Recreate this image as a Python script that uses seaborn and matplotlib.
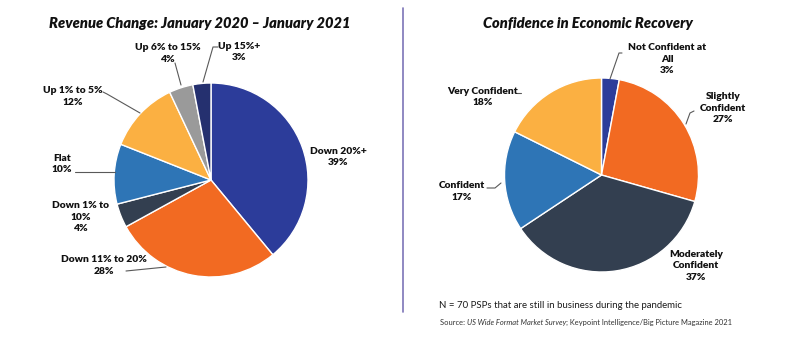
import matplotlib
matplotlib.use("Agg")
import matplotlib.pyplot as plt
import seaborn as sns
from matplotlib.lines import Line2D

sns.set_theme(style="white")
plt.rcParams["font.family"] = ["Lato", "DejaVu Sans"]

W, H = 800, 347

# ---------------- data ----------------
rev_categories = ["Down 20%+", "Down 11% to 20%", "Down 1% to\n10%", "Flat",
                  "Up 1% to 5%", "Up 6% to 15%", "Up 15%+"]
rev_values = [39, 28, 4, 10, 12, 4, 3]

conf_categories = ["Not Confident at\nAll", "Slightly\nConfident", "Moderately\nConfident",
                   "Confident", "Very Confident"]
conf_values = [3, 27, 37, 17, 18]

title_left = "Revenue Change: January 2020 \u2013 January 2021"
title_right = "Confidence in Economic Recovery"
note_text = "N = 70 PSPs that are still in business during the pandemic"
source_parts = [("Source: ", "normal"), ("US Wide Format Market Survey", "italic"),
                ("; Keypoint Intelligence/Big Picture Magazine 2021", "normal")]

# ---------------- styles ----------------
c_dblue = "#2C3C9A"
c_orange = "#F26A22"
c_slate = "#333F50"
c_blue = "#2E75B6"
c_yellow = "#FBB042"
c_gray = "#9A9A9A"
c_navy = "#25306F"
rev_colors = sns.color_palette([c_dblue, c_orange, c_slate, c_blue, c_yellow, c_gray, c_navy])
conf_colors = sns.color_palette([c_dblue, c_orange, c_slate, c_blue, c_yellow])

# label positions (pixel centres) and leader lines
rev_label_pos = [(338, 157), (104, 265.5), (81, 217), (62, 164), (73, 96.5), (168, 53.5), (239, 52)]
rev_leaders = [None, [(126, 271), (166, 267)], None, [(75, 172), (115, 172)],
               [(103, 92), (107, 94), (140, 113)], [(175, 63), (181, 85)],
               [(218, 47), (213, 47), (203, 82)]]
conf_label_pos = [(667, 59), (723, 108), (696, 266), (462, 191.5), (483, 97)]
conf_leaders = [[(622, 53), (619, 53), (610, 79)], [(694, 111), (690, 113), (686, 124)],
                None, [(487, 188), (495, 188), (501, 183)], [(517, 93), (521, 93)]]


def fx(x):
    return x / W


def fy(y):
    return 1 - y / H


fig = plt.figure(figsize=(W / 100, H / 100), dpi=100)
fig.patch.set_facecolor("white")


def draw_pie(cx, cy, r, values, colors):
    ax = fig.add_axes([fx(cx - r), fy(cy + r), 2 * r / W, 2 * r / H])
    ax.pie(values, colors=colors, startangle=90, counterclock=False, radius=1,
           wedgeprops=dict(edgecolor="white", linewidth=1.0))
    ax.set_xlim(-1, 1)
    ax.set_ylim(-1, 1)
    ax.set_aspect("equal")
    ax.axis("off")
    return ax


draw_pie(211, 180, 97, rev_values, rev_colors)
draw_pie(601.5, 175, 97, conf_values, conf_colors)

overlay = fig.add_axes([0, 0, 1, 1])
overlay.set_xlim(0, W)
overlay.set_ylim(H, 0)
overlay.axis("off")
overlay.patch.set_alpha(0)


def pct_labels(cats, vals, positions, leaders):
    for cat, v, (x, y), ld in zip(cats, vals, positions, leaders):
        if ld is not None:
            xs, ys = zip(*ld)
            overlay.add_line(Line2D(xs, ys, color="#595959", lw=0.8))
        overlay.text(x, y, f"{cat}\n{v}%", ha="center", va="center", multialignment="center",
                     fontsize=7.4, fontweight="heavy", color="#111111", linespacing=1.35)


pct_labels(rev_categories, rev_values, rev_label_pos, rev_leaders)
pct_labels(conf_categories, conf_values, conf_label_pos, conf_leaders)

overlay.text(200, 23, title_left, ha="center", va="center", fontsize=10.5,
             fontweight="heavy", fontstyle="italic", color="#111111")
overlay.text(588, 23, title_right, ha="center", va="center", fontsize=10.5,
             fontweight="heavy", fontstyle="italic", color="#111111")

# divider
overlay.add_line(Line2D([403, 403], [8, 312], color="#7D74B8", lw=1.2))

overlay.text(439, 305, note_text, ha="left", va="center", fontsize=6.9, color="#1a1a1a")

prev = overlay.text(440, 326, source_parts[0][0], ha="left", va="bottom", fontsize=5.4,
                    color="#333333", fontstyle=source_parts[0][1])
for txt, style in source_parts[1:]:
    prev = overlay.annotate(txt, xy=(1, 0), xycoords=prev, ha="left", va="bottom",
                            fontsize=5.4, color="#333333", fontstyle=style)

fig.savefig("out.png", dpi=100, facecolor="white")
